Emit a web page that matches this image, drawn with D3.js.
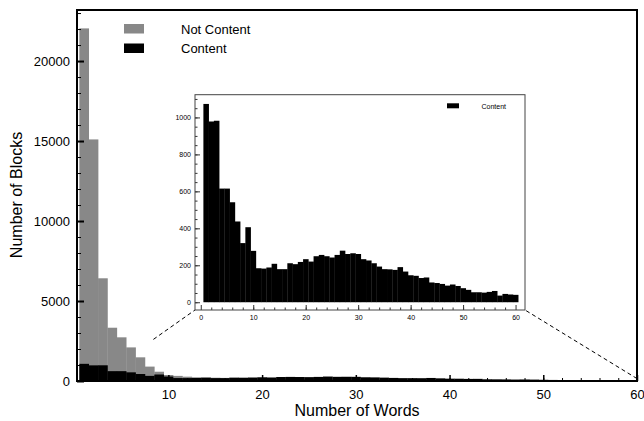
<!DOCTYPE html>
<html>
<head>
<meta charset="utf-8">
<script src="https://cdn.jsdelivr.net/npm/d3@7"></script>
<style>
  body { margin: 0; background: #fff; }
  svg { font-family: "Liberation Sans", Arial, Helvetica, sans-serif; }
</style>
</head>
<body>
<script>
var width = 644,
    height = 421;

// number of words per block (bin centres)
var words = [1,2,3,4,5,6,7,8,9,10,11,12,13,14,15,16,17,18,19,20,
             21,22,23,24,25,26,27,28,29,30,31,32,33,34,35,36,37,38,39,40,
             41,42,43,44,45,46,47,48,49,50,51,52,53,54,55,56,57,58,59,60];

var notContent = [22040,15100,6420,3330,2730,2100,1480,900,580,375,
                  320,270,230,215,205,195,185,175,165,155,
                  145,135,125,118,110,102,95,88,82,76,
                  70,65,60,56,52,48,45,42,39,36,
                  34,32,30,28,26,24,22,21,20,19,
                  18,17,16,15,14,13,12,11,10,10];

var content = [1073,978,982,615,615,541,437,320,406,278,
               184,182,188,208,179,179,211,206,218,233,
               220,249,256,249,242,256,279,261,265,261,
               233,226,211,193,179,178,175,190,166,146,
               143,131,134,107,104,99,90,96,88,76,
               67,54,54,52,56,61,36,45,42,40];

var mainXTicks = [10,20,30,40,50,60];
var mainYTicks = [0,5000,10000,15000,20000];
var insetXTicks = [0,10,20,30,40,50,60];
var insetYTicks = [0,200,400,600,800,1000];

// zoom connector anchors (main data coords)
var zoomLeft = [8.4, 2600],
    zoomRight = [60, 150];

var fmt = d3.format("d");

var svg = d3.select("body").append("svg")
    .attr("width", width)
    .attr("height", height);

// ---------- main chart ----------
var x = d3.scaleLinear().domain([0.25, 60]).range([77, 637]);
var y = d3.scaleLinear().domain([0, 23190]).range([381, 10]);

svg.append("clipPath").attr("id", "mainclip")
  .append("rect")
    .attr("x", 77).attr("y", 10)
    .attr("width", 560).attr("height", 371);

var bars = svg.append("g").attr("clip-path", "url(#mainclip)");

bars.selectAll("rect.nc")
    .data(words)
  .enter().append("rect")
    .attr("class", "nc")
    .attr("x", function(d) { return x(d - 0.5); })
    .attr("width", function(d) { return x(d + 0.5) - x(d - 0.5) + 0.3; })
    .attr("y", function(d, i) { return y(notContent[i]); })
    .attr("height", function(d, i) { return y(0) - y(notContent[i]); })
    .style("fill", "#888");

bars.selectAll("rect.c")
    .data(words)
  .enter().append("rect")
    .attr("class", "c")
    .attr("x", function(d) { return x(d - 0.5); })
    .attr("width", function(d) { return x(d + 0.5) - x(d - 0.5) + 0.3; })
    .attr("y", function(d, i) { return y(content[i]); })
    .attr("height", function(d, i) { return y(0) - y(content[i]); })
    .style("fill", "#000");

function clean(g) {
  g.select(".domain").remove();
  g.selectAll("text").attr("fill", "#000");
}

// y axis
svg.append("g")
    .attr("transform", "translate(77,0)")
    .call(d3.axisLeft(y).tickValues(d3.range(0, 23001, 1000)).tickSize(-4).tickFormat(""))
    .call(clean);

svg.append("g")
    .attr("transform", "translate(77,0)")
    .style("font-size", "13px")
    .call(d3.axisLeft(y).tickValues(mainYTicks).tickSize(-7).tickPadding(7).tickFormat(fmt))
    .call(clean)
    .call(function(g) { g.selectAll("line").attr("stroke-width", 2); });

// x axis
svg.append("g")
    .attr("transform", "translate(0,381)")
    .call(d3.axisBottom(x).tickValues(d3.range(2, 60, 2)).tickSize(-3).tickFormat(""))
    .call(clean);

svg.append("g")
    .attr("transform", "translate(0,381)")
    .style("font-size", "13px")
    .call(d3.axisBottom(x).tickValues(mainXTicks).tickSize(-6).tickPadding(9).tickFormat(fmt))
    .call(clean)
    .call(function(g) { g.selectAll("line").attr("stroke-width", 1.5); });

svg.append("rect")
    .attr("x", 77).attr("y", 10)
    .attr("width", 560).attr("height", 371)
    .style("fill", "none")
    .style("stroke", "#000")
    .style("stroke-width", 2);

svg.append("text")
    .attr("x", 357).attr("y", 416)
    .attr("text-anchor", "middle")
    .style("font-size", "16px")
    .text("Number of Words");

svg.append("text")
    .attr("transform", "translate(22,195) rotate(-90)")
    .attr("text-anchor", "middle")
    .style("font-size", "16px")
    .text("Number of Blocks");

// legend
var legend = [{name: "Not Content", color: "#888"}, {name: "Content", color: "#000"}];
var lg = svg.append("g").attr("transform", "translate(124,24)");
lg.selectAll("rect").data(legend).enter().append("rect")
    .attr("x", 0).attr("y", function(d, i) { return i * 19.5; })
    .attr("width", 20).attr("height", 9.5)
    .style("fill", function(d) { return d.color; });
lg.selectAll("text").data(legend).enter().append("text")
    .attr("x", 57).attr("y", function(d, i) { return i * 19.5 + 9.5; })
    .style("font-size", "13px")
    .text(function(d) { return d.name; });

// ---------- inset ----------
var ix = d3.scaleLinear().domain([-1.1, 61.8]).range([195, 525]);
var iy = d3.scaleLinear().domain([-42, 1123]).range([310, 94.7]);

// connector lines
svg.append("line")
    .attr("x1", x(zoomLeft[0])).attr("y1", y(zoomLeft[1]))
    .attr("x2", 195).attr("y2", 310)
    .style("stroke", "#000").style("stroke-dasharray", "4,3");
svg.append("line")
    .attr("x1", x(zoomRight[0])).attr("y1", y(zoomRight[1]))
    .attr("x2", 525).attr("y2", 310)
    .style("stroke", "#000").style("stroke-dasharray", "4,3");

var inset = svg.append("g");

inset.append("rect")
    .attr("x", 195).attr("y", 94.7)
    .attr("width", 330).attr("height", 215.3)
    .style("fill", "#fff");

inset.selectAll("rect.ib")
    .data(words)
  .enter().append("rect")
    .attr("class", "ib")
    .attr("x", function(d) { return ix(d - 0.5); })
    .attr("width", function(d) { return ix(d + 0.5) - ix(d - 0.5) + 0.3; })
    .attr("y", function(d, i) { return iy(content[i]); })
    .attr("height", function(d, i) { return iy(0) - iy(content[i]); })
    .style("fill", "#000");

inset.append("g")
    .attr("transform", "translate(195,0)")
    .call(d3.axisLeft(iy).tickValues(d3.range(0, 1101, 50)).tickSize(-2.5).tickFormat(""))
    .call(clean)
    .call(function(g) { g.selectAll("line").attr("stroke", "#333"); });

inset.append("g")
    .attr("transform", "translate(195,0)")
    .style("font-size", "7px")
    .call(d3.axisLeft(iy).tickValues(insetYTicks).tickSize(-5).tickPadding(4).tickFormat(fmt))
    .call(clean)
    .call(function(g) { g.selectAll("line").attr("stroke", "#333"); });

inset.append("g")
    .attr("transform", "translate(0,310)")
    .call(d3.axisBottom(ix).tickValues(d3.range(2, 60, 2)).tickSize(-2.5).tickFormat(""))
    .call(clean)
    .call(function(g) { g.selectAll("line").attr("stroke", "#333"); });

inset.append("g")
    .attr("transform", "translate(0,310)")
    .style("font-size", "7px")
    .call(d3.axisBottom(ix).tickValues(insetXTicks).tickSize(-5).tickPadding(5).tickFormat(fmt))
    .call(clean)
    .call(function(g) { g.selectAll("line").attr("stroke", "#333"); });

inset.append("rect")
    .attr("x", 195).attr("y", 94.7)
    .attr("width", 330).attr("height", 215.3)
    .style("fill", "none")
    .style("stroke", "#444")
    .style("stroke-width", 1);

inset.append("rect")
    .attr("x", 447).attr("y", 103.3)
    .attr("width", 12).attr("height", 5)
    .style("fill", "#000");
inset.append("text")
    .attr("x", 481.5).attr("y", 108.5)
    .style("font-size", "7px")
    .text("Content");
</script>
</body>
</html>
